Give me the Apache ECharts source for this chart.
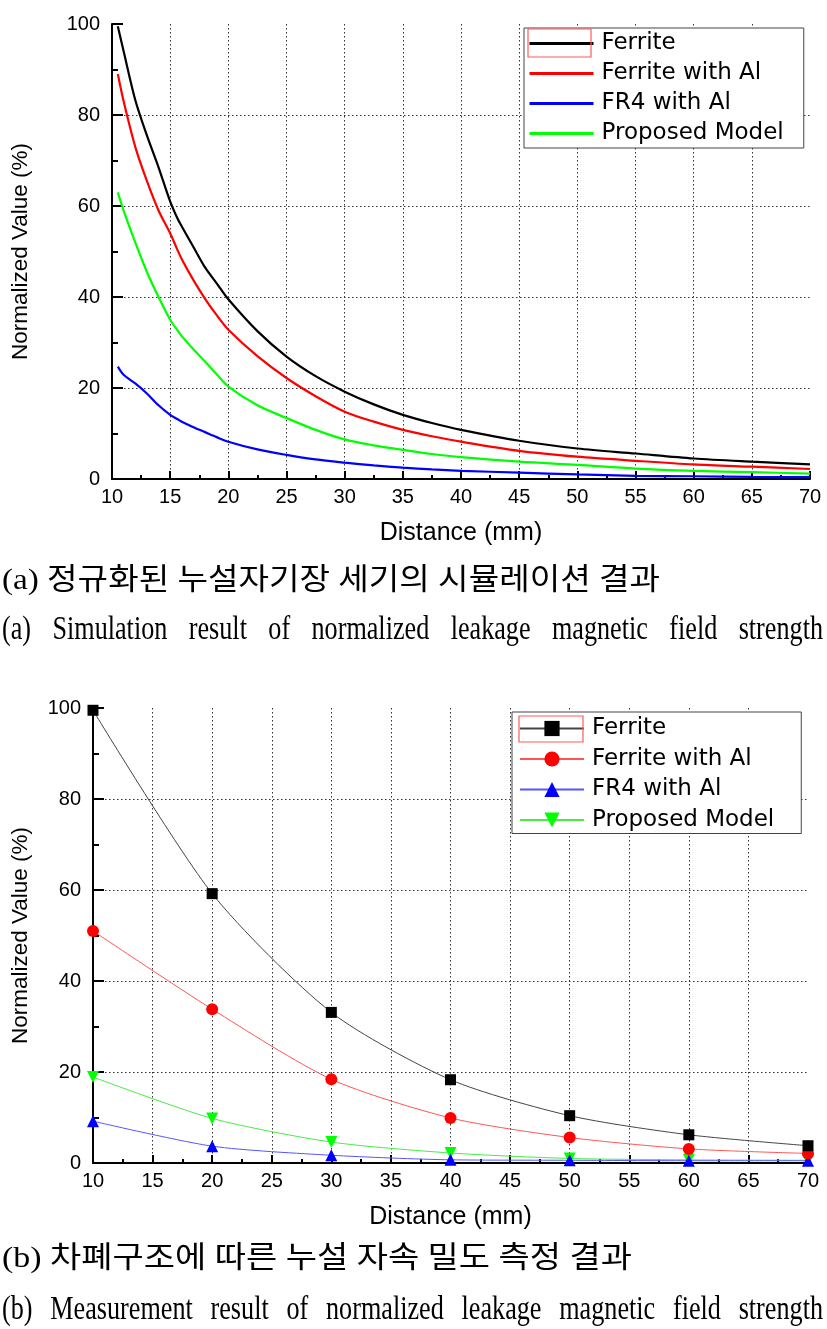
<!DOCTYPE html>
<html>
<head>
<meta charset="utf-8">
<script src="https://cdn.jsdelivr.net/npm/echarts@6/dist/echarts.min.js"></script>
<style>
html,body{margin:0;padding:0;background:#fff;}
#c{width:827px;height:1329px;}
</style>
</head>
<body>
<div id="c"></div>
<script>
// ---------- data: (a) simulation ----------
const simDistance = [10.5, 11, 12, 13, 14, 15, 15.6, 16, 17, 18, 19, 20, 22.5, 25, 27.5, 30, 32.5, 35, 37.5, 40, 45, 50, 55, 60, 65, 70];
const simFerrite   = [99.5, 94, 83.3, 75.5, 68.5, 61, 57.4, 55.5, 51, 46.5, 43, 39.5, 32.5, 26.9, 22.6, 19.2, 16.4, 14.1, 12.3, 10.8, 8.4, 6.7, 5.6, 4.5, 3.8, 3.2];
const simFerriteAl = [89, 83, 73, 65.5, 59, 54, 50.5, 48.3, 43.7, 39.6, 36, 32.8, 27, 22.2, 18.2, 14.8, 12.6, 10.8, 9.4, 8.2, 6.2, 4.9, 4.0, 3.2, 2.7, 2.2];
const simFR4Al     = [24.7, 22.9, 21, 18.8, 16.2, 14.1, 13.2, 12.6, 11.4, 10.3, 9.2, 8.2, 6.5, 5.3, 4.3, 3.6, 3.0, 2.5, 2.1, 1.8, 1.4, 1.0, 0.7, 0.6, 0.45, 0.4];
const simProposed  = [63, 59, 52, 45.5, 40, 35, 32.8, 31.4, 28.5, 25.8, 23, 20.3, 16.2, 13.4, 10.8, 8.7, 7.4, 6.4, 5.5, 4.8, 3.8, 3.1, 2.3, 1.8, 1.5, 1.2];

// ---------- data: (b) measurement ----------
const measDistance   = [10, 20, 30, 40, 50, 60, 70];
const measFerrite    = [99.5, 59.2, 33.1, 18.3, 10.4, 6.2, 3.8];
const measFerriteAl  = [51, 33.8, 18.4, 9.9, 5.6, 3.1, 2.1];
const measFR4Al      = [9.2, 3.7, 1.7, 0.7, 0.6, 0.5, 0.5];
const measProposed   = [18.9, 9.8, 4.6, 2.2, 1.0, 0.7, 0.6];

const seriesNames = ['Ferrite', 'Ferrite with Al', 'FR4 with Al', 'Proposed Model'];
const xAxisTitle = 'Distance (mm)';
const yAxisTitle = 'Normalized Value (%)';
const captionAko = '(a) 정규화된 누설자기장 세기의 시뮬레이션 결과';
const captionAen = '(a) Simulation result of normalized leakage magnetic field strength';
const captionBko = '(b) 차폐구조에 따른 누설 자속 밀도 측정 결과';
const captionBen = '(b) Measurement result of normalized leakage magnetic field strength';

// ---------- helpers ----------
const pairs = (xs, ys) => xs.map((x, i) => [x, ys[i]]);
const SANS = "'Liberation Sans', Arial, sans-serif";
const SERIF = "'Liberation Serif', 'Noto Sans CJK KR', serif";
const KSERIF = "'Liberation Serif', 'Noto Sans CJK KR', serif";
const mctx = document.createElement('canvas').getContext('2d');

function justified(text, family, size, sx, x0, x1, y) {
  mctx.font = size + 'px ' + family;
  const words = text.split(' ');
  const widths = words.map(w => mctx.measureText(w).width * sx);
  const total = widths.reduce((a, b) => a + b, 0);
  const gap = (x1 - x0 - total) / (words.length - 1);
  let x = x0;
  return words.map((w, i) => {
    const el = {type: 'text', x: x, y: y, scaleX: sx, z: 20,
      style: {text: w, fontSize: size, fontFamily: family, fill: '#000', align: 'left', verticalAlign: 'middle'}};
    x += widths[i] + gap;
    return el;
  });
}
function fitted(text, family, size, x0, x1, y) {
  mctx.font = size + 'px ' + family;
  const w = mctx.measureText(text).width;
  return [{type: 'text', x: x0, y: y, scaleX: (x1 - x0) / w, z: 20,
    style: {text: text, fontSize: size, fontFamily: family, fill: '#000', align: 'left', verticalAlign: 'middle'}}];
}

function makeX(gridIndex) {
  return {
    type: 'value', gridIndex: gridIndex, min: 10, max: 70, interval: 5,
    name: xAxisTitle, nameLocation: 'middle', nameGap: 42,
    nameTextStyle: {fontFamily: SANS, fontSize: 25, color: '#000'},
    axisLine: {show: true, onZero: false, lineStyle: {color: '#000', width: 2}},
    axisTick: {show: true, inside: true, length: 8, lineStyle: {color: '#000', width: 2}},
    minorTick: {show: true, splitNumber: 2, length: 4, lineStyle: {color: '#000', width: 2}},
    axisLabel: {fontFamily: SANS, fontSize: 20, color: '#000', margin: 8},
    splitLine: {show: true, showMinLine: false, showMaxLine: false, lineStyle: {color: '#333', width: 1, type: [1.5, 2.5]}}
  };
}
function makeY(gridIndex, gap) {
  return {
    type: 'value', gridIndex: gridIndex, min: 0, max: 100, interval: 20,
    name: yAxisTitle, nameLocation: 'middle', nameGap: gap,
    nameTextStyle: {fontFamily: SANS, fontSize: 22.5, color: '#000'},
    axisLine: {show: true, lineStyle: {color: '#000', width: 2}},
    axisTick: {show: true, inside: true, length: 11, lineStyle: {color: '#000', width: 2}},
    minorTick: {show: true, splitNumber: 2, length: 6, lineStyle: {color: '#000', width: 2}},
    axisLabel: {fontFamily: SANS, fontSize: 20, color: '#000', margin: 12},
    splitLine: {show: true, showMinLine: false, showMaxLine: false, lineStyle: {color: '#333', width: 1, type: [1.5, 2.5]}}
  };
}

const simColors = ['#000000', '#ff0000', '#0000ff', '#00ff00'];
const simData = [simFerrite, simFerriteAl, simFR4Al, simProposed];
const simSeries = seriesNames.map((n, i) => ({
  name: n, type: 'line', xAxisIndex: 0, yAxisIndex: 0,
  data: pairs(simDistance, simData[i]), smooth: 0.3, symbol: 'none',
  lineStyle: {color: simColors[i], width: 2.2}, itemStyle: {color: simColors[i]}, z: 5 - i
}));

const measSpec = [
  {data: measFerrite,   symbol: 'rect',     size: 11, rot: 0,   color: '#000000', line: '#444444'},
  {data: measFerriteAl, symbol: 'circle',   size: 12, rot: 0,   color: '#ff0000', line: '#ff5555'},
  {data: measFR4Al,     symbol: 'triangle', size: 12, rot: 0,   color: '#0000ff', line: '#5555ff'},
  {data: measProposed,  symbol: 'triangle', size: 12, rot: 180, color: '#00ff00', line: '#44ee44'}
];
const measSeries = seriesNames.map((n, i) => ({
  name: n + ' ', type: 'line', xAxisIndex: 1, yAxisIndex: 1,
  data: pairs(measDistance, measSpec[i].data), smooth: 0.25,
  symbol: measSpec[i].symbol, symbolSize: measSpec[i].size, symbolRotate: measSpec[i].rot,
  lineStyle: {color: measSpec[i].line, width: 1}, itemStyle: {color: measSpec[i].color}, z: 5 - i
}));

const legendText = {fontFamily: "'DejaVu Sans', sans-serif", fontSize: 23, color: '#000', lineHeight: 22, padding: [0, 0, 0, 3]};

const graphics = [].concat(
  fitted(captionAko, KSERIF, 30, 2, 660, 581),
  justified(captionAen, SERIF, 34, 0.77, 2, 823, 630),
  fitted(captionBko, KSERIF, 30, 2, 632, 1259),
  justified(captionBen, SERIF, 34, 0.77, 2, 823, 1310),
  [
    {type: 'rect', z: 30, shape: {x: 528, y: 29, width: 63, height: 28}, style: {fill: 'none', stroke: '#ff5a5a', lineWidth: 1.2}},
    {type: 'rect', z: 30, shape: {x: 519, y: 716, width: 64, height: 26}, style: {fill: 'none', stroke: '#ff5a5a', lineWidth: 1.2}}
  ]
);

const chart = echarts.init(document.getElementById('c'));
chart.setOption({
  animation: false,
  backgroundColor: '#fff',
  grid: [
    {left: 112, top: 24, width: 698, height: 455, containLabel: false},
    {left: 93, top: 708, width: 715, height: 455, containLabel: false}
  ],
  xAxis: [makeX(0), makeX(1)],
  yAxis: [makeY(0, 80), makeY(1, 61)],
  legend: [
    {orient: 'vertical', left: 524, top: 28, padding: [4, 20, 3, 4], itemGap: 7, itemWidth: 64, itemHeight: 14,
     backgroundColor: '#fff', borderColor: '#444', borderWidth: 1, selectedMode: false,
     itemStyle: {opacity: 0}, lineStyle: {width: 3, opacity: 1},
     textStyle: legendText, data: seriesNames},
    {orient: 'vertical', left: 512, top: 712, padding: [5, 27, 2, 7], itemGap: 7.5, itemWidth: 64, itemHeight: 19,
     backgroundColor: '#fff', borderColor: '#444', borderWidth: 1, selectedMode: false,
     textStyle: legendText, data: seriesNames.map(n => n + ' '),
     formatter: n => n.trim()}
  ],
  series: simSeries.concat(measSeries),
  graphic: graphics
});
</script>
</body>
</html>
